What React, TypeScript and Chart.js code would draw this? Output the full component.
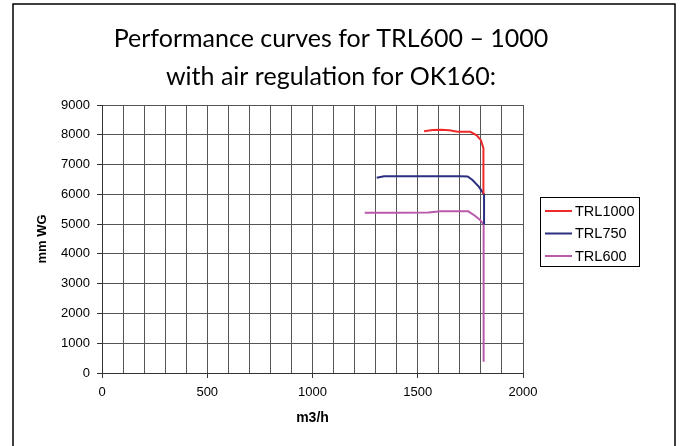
import React, { useEffect, useRef } from "react";
import { Chart, registerables } from "chart.js";

Chart.register(...registerables);

const titleLines = ["Performance curves for TRL600 – 1000", "with air regulation for OK160:"];
const xAxisTitle = "m3/h";
const yAxisTitle = "mm WG";
const seriesNames = ["TRL1000", "TRL750", "TRL600"];
const seriesColors = ["#EE2A2A", "#2B2F80", "#BA5AAA"];

const trl1000X = [1530, 1570, 1610, 1650, 1690, 1750, 1780, 1800, 1812, 1812];
const trl1000Y = [8120, 8160, 8170, 8150, 8100, 8100, 7980, 7820, 7550, 6000];
const trl750X = [1305, 1340, 1400, 1500, 1600, 1700, 1737, 1760, 1790, 1815, 1815];
const trl750Y = [6560, 6610, 6610, 6610, 6610, 6610, 6600, 6480, 6260, 6000, 4990];
const trl600X = [1248, 1400, 1550, 1610, 1700, 1740, 1770, 1795, 1813, 1813];
const trl600Y = [5380, 5380, 5390, 5430, 5435, 5430, 5290, 5150, 4990, 380];

const xMin = 0, xMax = 2000, xStep = 100, xLabelStep = 500;
const yMin = 0, yMax = 9000, yStep = 1000;

const toPoints = (xs: number[], ys: number[]) => xs.map((x, i) => ({ x, y: ys[i] }));

const decorPlugin = {
  id: "decor",
  afterDraw(chart: any) {
    const ctx = chart.ctx as CanvasRenderingContext2D;
    ctx.save();
    // outer frame
    ctx.strokeStyle = "#000";
    ctx.lineWidth = 1.5;
    ctx.beginPath();
    ctx.moveTo(13, 460);
    ctx.lineTo(13, 4);
    ctx.lineTo(675, 4);
    ctx.lineTo(675, 460);
    ctx.stroke();
    // title
    ctx.fillStyle = "#000";
    ctx.font = "400 25px Lato";
    ctx.textAlign = "center";
    ctx.textBaseline = "middle";
    ctx.fillText(titleLines[0], 331, 39);
    ctx.fillText(titleLines[1], 331, 77);
    // legend
    const lx = 540.5, ly = 197.5, lw = 99, lh = 69;
    ctx.lineWidth = 1;
    ctx.strokeStyle = "#000";
    ctx.strokeRect(lx, ly, lw, lh);
    ctx.font = "14.5px 'Liberation Sans', Arial";
    ctx.textAlign = "left";
    chart.data.datasets.forEach((ds: any, i: number) => {
      const y = 211 + i * 22.5;
      ctx.strokeStyle = ds.borderColor;
      ctx.lineWidth = 2;
      ctx.beginPath();
      ctx.moveTo(545, y);
      ctx.lineTo(572, y);
      ctx.stroke();
      ctx.fillStyle = "#000";
      ctx.fillText(ds.label, 575, y + 0.5);
    });
    ctx.restore();
  },
};

export default function App() {
  const ref = useRef<HTMLCanvasElement | null>(null);
  useEffect(() => {
    if (!ref.current) return;
    const chart = new Chart(ref.current, {
      type: "line",
      data: {
        datasets: [
          { label: seriesNames[0], data: toPoints(trl1000X, trl1000Y), borderColor: seriesColors[0], backgroundColor: seriesColors[0] },
          { label: seriesNames[1], data: toPoints(trl750X, trl750Y), borderColor: seriesColors[1], backgroundColor: seriesColors[1] },
          { label: seriesNames[2], data: toPoints(trl600X, trl600Y), borderColor: seriesColors[2], backgroundColor: seriesColors[2] },
        ],
      },
      options: {
        animation: false,
        responsive: false,
        devicePixelRatio: 1,
        layout: { padding: { left: 31, right: 158, top: 105, bottom: 15 } },
        elements: {
          point: { radius: 0, hoverRadius: 0 },
          line: { borderWidth: 2, tension: 0 },
        },
        plugins: {
          legend: { display: false },
          title: { display: false },
          tooltip: { enabled: false },
        },
        scales: {
          x: {
            type: "linear",
            min: xMin,
            max: xMax,
            afterFit: (s: any) => { s.height = 58; },
            ticks: {
              stepSize: xStep,
              autoSkip: false,
              maxRotation: 0,
              padding: 7,
              color: "#000",
              font: { family: "'Liberation Sans', Arial", size: 13 },
              callback: (v: any) => (Number(v) % xLabelStep === 0 ? String(v) : ""),
            },
            grid: {
              color: "#555",
              lineWidth: 1,
              tickLength: 5,
              tickColor: (c: any) => (c.tick && c.tick.value % xLabelStep === 0 ? "#333" : "rgba(0,0,0,0)"),
            },
            border: { color: "#333", width: 1 },
            title: {
              display: true,
              text: xAxisTitle,
              color: "#000",
              font: { family: "'Liberation Sans', Arial", size: 14, weight: "bold" },
              padding: 4,
            },
          },
          y: {
            type: "linear",
            min: yMin,
            max: yMax,
            afterFit: (s: any) => { s.width = 71; },
            ticks: {
              stepSize: yStep,
              padding: 7,
              color: "#000",
              font: { family: "'Liberation Sans', Arial", size: 13 },
              callback: (v: any) => String(v),
            },
            grid: { color: "#555", lineWidth: 1, tickLength: 5, tickColor: "#333" },
            border: { color: "#333", width: 1 },
            title: {
              display: true,
              text: yAxisTitle,
              color: "#000",
              font: { family: "'Liberation Sans', Arial", size: 13, weight: "bold" },
              padding: 4,
            },
          },
        },
      },
      plugins: [decorPlugin],
    } as any);
    return () => chart.destroy();
  }, []);
  return (
    <div style={{ position: "absolute", left: 0, top: 0, width: 681, height: 446, background: "#fff" }}>
      <canvas ref={ref} width={681} height={446} style={{ width: 681, height: 446 }} />
    </div>
  );
}
